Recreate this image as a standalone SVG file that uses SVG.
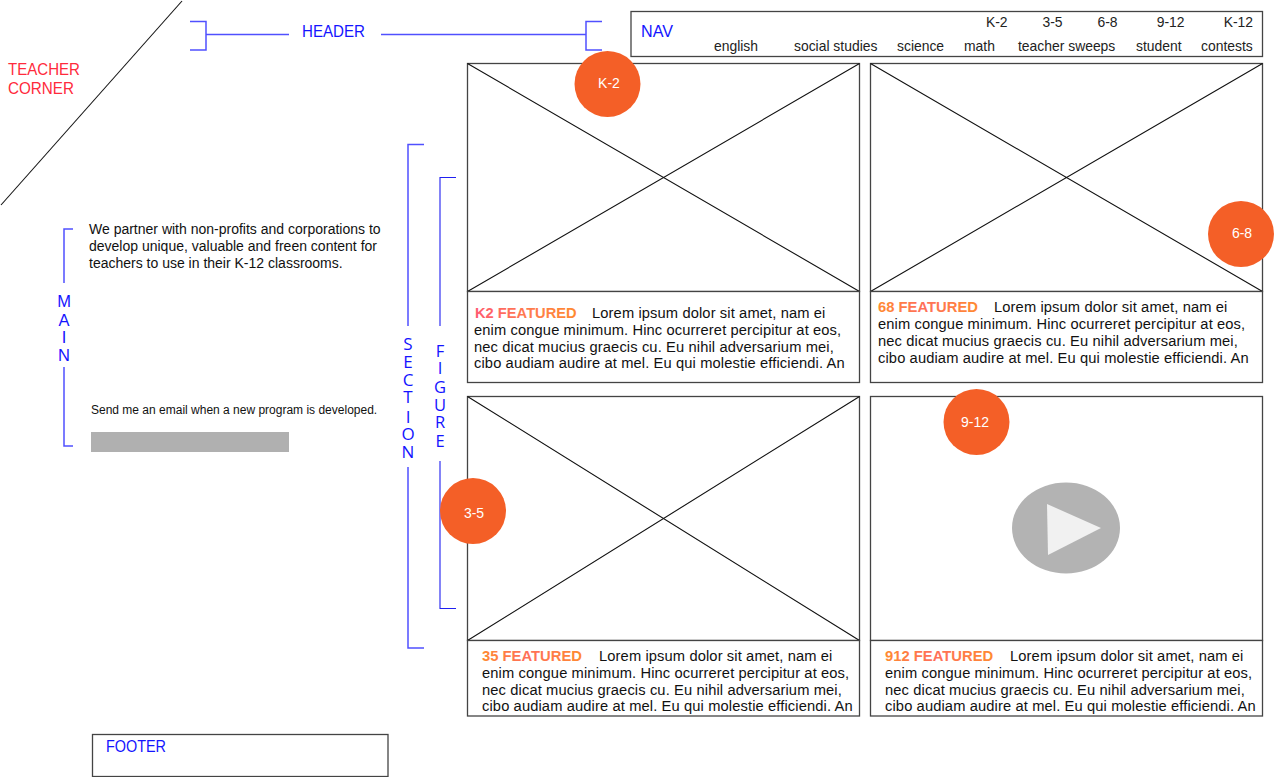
<svg xmlns="http://www.w3.org/2000/svg" width="1274" height="777" viewBox="0 0 1274 777">
<style>
text{font-family:"Liberation Sans",Arial,sans-serif}
.box{fill:#fff;stroke:#444;stroke-width:1.3}
.x{stroke:#111;stroke-width:1.1;fill:none}
.br{fill:none;stroke:#5050ff;stroke-width:1.5}
.br2{fill:none;stroke:#2020f0;stroke-width:1.1}
.lb{fill:#1414ff;font-size:16px}
.os{font-family:"Open Sans",sans-serif;text-anchor:middle}
.red{fill:#ff2a3c;font-size:16px}
.nv{fill:#222;font-size:13.900px}
.body{fill:#111;font-size:14.700px;letter-spacing:.12px}
.ft{font-size:14.800px;font-weight:bold;fill:url(#fg)}
.ftk{font-size:14.700px;font-weight:bold;fill:url(#fk)}
.badge{fill:#f45f27}
.bt{fill:#fff;font-size:14px;text-anchor:middle}
</style>
<defs>
<linearGradient id="fg" x1="0" x2="1" y1="0" y2="0"><stop offset="0" stop-color="#ff8a30"/><stop offset=".45" stop-color="#ff6f5a"/><stop offset="1" stop-color="#ff8a30"/></linearGradient>
<linearGradient id="fk" x1="0" x2="1" y1="0" y2="0"><stop offset="0" stop-color="#ff5a70"/><stop offset=".5" stop-color="#ff7a50"/><stop offset="1" stop-color="#ff8a30"/></linearGradient>
</defs>
<g id="connectors">
<line class="x" x1="1" y1="205" x2="182" y2="1"/>
<path class="br" d="M190 21.500H206V50H190M206 34.500H289M381 34.500H586M602 21.500H586V50H602"/>
<path class="br" d="M73 229H64V283M64 367V446H73"/>
<path class="br" d="M424 144.500H408V326M408 467V648H424"/>
<path class="br2" d="M456 177.500H440V326M440 461V608.500H456"/>
</g>
<g id="teacher-corner"><text class="red" x="8" y="75" textLength="72" lengthAdjust="spacingAndGlyphs">TEACHER</text><text class="red" x="8" y="94" textLength="66" lengthAdjust="spacingAndGlyphs">CORNER</text></g>
<g id="header-label"><text class="lb" x="302" y="37" textLength="63" lengthAdjust="spacingAndGlyphs">HEADER</text></g>
<g id="main-label"><text class="lb" style="font-size:16.500px;text-anchor:middle"><tspan x="64" y="307">M</tspan><tspan x="64" y="326">A</tspan><tspan x="64" y="343">I</tspan><tspan x="64" y="361">N</tspan></text></g>
<g id="section-label"><text class="lb os" style="font-size:17px"><tspan x="408" y="350">S</tspan><tspan x="408" y="368">E</tspan><tspan x="408" y="386">C</tspan><tspan x="408" y="403">T</tspan><tspan x="408" y="423">I</tspan><tspan x="408" y="440">O</tspan><tspan x="408" y="458">N</tspan></text></g>
<g id="figure-label"><text class="lb os" style="font-size:16.500px"><tspan x="440" y="357">F</tspan><tspan x="440" y="374">I</tspan><tspan x="440" y="393">G</tspan><tspan x="440" y="411">U</tspan><tspan x="440" y="428">R</tspan><tspan x="440" y="447">E</tspan></text></g>
<g id="nav">
<rect class="box" x="631" y="11.500" width="631.500" height="45"/>
<text class="lb" x="641" y="37" textLength="32" lengthAdjust="spacingAndGlyphs">NAV</text>
<text class="nv" x="1007.500" y="27" text-anchor="end">K-2</text>
<text class="nv" x="1062.500" y="27" text-anchor="end">3-5</text>
<text class="nv" x="1117.500" y="27" text-anchor="end">6-8</text>
<text class="nv" x="1184.500" y="27" text-anchor="end">9-12</text>
<text class="nv" x="1253" y="27" text-anchor="end">K-12</text>
<text class="nv" x="714" y="51">english</text>
<text class="nv" x="794" y="51">social studies</text>
<text class="nv" x="897" y="51">science</text>
<text class="nv" x="964" y="51">math</text>
<text class="nv" x="1018" y="51">teacher sweeps</text>
<text class="nv" x="1136" y="51">student</text>
<text class="nv" x="1201" y="51">contests</text>
</g>
<g id="main-copy">
<text fill="#111" font-size="14" x="89" y="234">We partner with non-profits and corporations to</text>
<text fill="#111" font-size="14" x="89" y="251">develop unique, valuable and freen content for</text>
<text fill="#111" font-size="14" x="89" y="268">teachers to use in their K-12 classrooms.</text>
<text fill="#111" font-size="12" x="91" y="414">Send me an email when a new program is developed.</text>
<rect x="91" y="432" width="198" height="20" fill="#b0b0b0"/>
</g>
<g id="figure-k2">
<rect class="box" x="467.500" y="63.500" width="392" height="228"/>
<path class="x" d="M467.500 63.500L859.500 291.500M859.500 63.500L467.500 291.500"/>
<rect class="box" x="467.500" y="291.500" width="392" height="91"/>
<text class="ftk" x="475" y="318">K2 FEATURED</text>
<text class="body" x="592" y="318">Lorem ipsum dolor sit amet, nam ei</text>
<text class="body" x="474" y="335">enim congue minimum. Hinc ocurreret percipitur at eos,</text>
<text class="body" x="474" y="352">nec dicat mucius graecis cu. Eu nihil adversarium mei,</text>
<text class="body" x="474" y="368">cibo audiam audire at mel. Eu qui molestie efficiendi. An</text>
</g>
<g id="figure-68">
<rect class="box" x="870.500" y="63.500" width="392" height="228"/>
<path class="x" d="M870.500 63.500L1262.500 291.500M1262.500 63.500L870.500 291.500"/>
<rect class="box" x="870.500" y="291.500" width="392" height="91"/>
<text class="ft" x="878" y="312">68 FEATURED</text>
<text class="body" x="994" y="312">Lorem ipsum dolor sit amet, nam ei</text>
<text class="body" x="878" y="329">enim congue minimum. Hinc ocurreret percipitur at eos,</text>
<text class="body" x="878" y="346">nec dicat mucius graecis cu. Eu nihil adversarium mei,</text>
<text class="body" x="878" y="363">cibo audiam audire at mel. Eu qui molestie efficiendi. An</text>
</g>
<g id="figure-35">
<rect class="box" x="467.500" y="396.500" width="392" height="244"/>
<path class="x" d="M467.500 396.500L859.500 640.500M859.500 396.500L467.500 640.500"/>
<rect class="box" x="467.500" y="640.500" width="392" height="75.500"/>
<text class="ft" x="482" y="661">35 FEATURED</text>
<text class="body" x="599" y="661">Lorem ipsum dolor sit amet, nam ei</text>
<text class="body" x="482" y="678">enim congue minimum. Hinc ocurreret percipitur at eos,</text>
<text class="body" x="482" y="695">nec dicat mucius graecis cu. Eu nihil adversarium mei,</text>
<text class="body" x="482" y="711">cibo audiam audire at mel. Eu qui molestie efficiendi. An</text>
</g>
<g id="figure-912">
<rect class="box" x="870.500" y="396.500" width="392" height="244"/>
<ellipse cx="1066" cy="528" rx="54" ry="45.500" fill="#b3b3b3"/>
<polygon points="1047,504 1101,528 1048,555" fill="#f1f1f1"/>
<rect class="box" x="870.500" y="640.500" width="392" height="75.500"/>
<text class="ft" x="885" y="661">912 FEATURED</text>
<text class="body" x="1010" y="661">Lorem ipsum dolor sit amet, nam ei</text>
<text class="body" x="885" y="678">enim congue minimum. Hinc ocurreret percipitur at eos,</text>
<text class="body" x="885" y="695">nec dicat mucius graecis cu. Eu nihil adversarium mei,</text>
<text class="body" x="885" y="711">cibo audiam audire at mel. Eu qui molestie efficiendi. An</text>
</g>
<g id="badge-k2"><circle class="badge" cx="607.500" cy="84" r="33"/><text class="bt" x="609" y="88">K-2</text></g>
<g id="badge-68"><circle class="badge" cx="1241" cy="234" r="33"/><text class="bt" x="1242" y="238">6-8</text></g>
<g id="badge-35"><circle class="badge" cx="473" cy="511" r="33"/><text class="bt" x="474" y="518">3-5</text></g>
<g id="badge-912"><circle class="badge" cx="976.500" cy="422" r="33"/><text class="bt" x="975" y="427">9-12</text></g>
<g id="footer">
<rect class="box" x="92.500" y="734.500" width="295.500" height="42"/>
<text class="lb" x="106" y="752" textLength="60" lengthAdjust="spacingAndGlyphs">FOOTER</text>
</g>
</svg>
